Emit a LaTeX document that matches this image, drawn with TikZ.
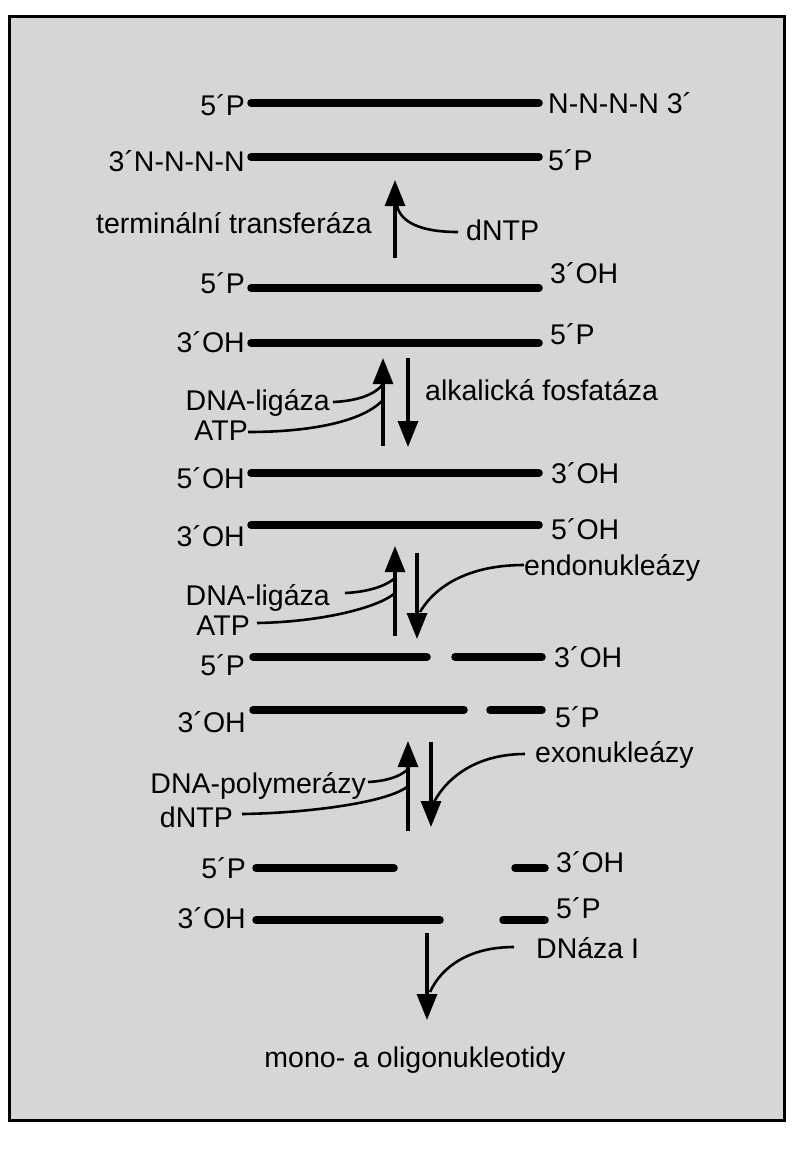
\documentclass[tikz,border=0pt]{standalone}
\usepackage{fontspec}
\setmainfont{Liberation Sans}
\usetikzlibrary{arrows.meta}
\begin{document}
\begin{tikzpicture}[x=1pt,y=-1pt,
  strand/.style={line width=7.5pt, line cap=round},
  lbl/.style={font=\fontsize{28.5}{30}\selectfont, inner sep=0pt},
  le/.style={lbl, anchor=base east},
  ri/.style={lbl, anchor=base west},
  rx/.style={line width=3.2pt, -{Triangle[length=26pt,width=20pt]}},
  feed/.style={line width=2.6pt}]
\useasboundingbox (0,0) rectangle (801,1149);
\fill[white] (0,0) rectangle (801,1149);
\draw[line width=3pt, fill=black!16] (9,16) rectangle (784,1120);

% ---------- strands ----------
\draw[strand] (251,103) -- (539,103);
\draw[strand] (251,157) -- (539,157);
\draw[strand] (251,288) -- (539,288);
\draw[strand] (251,343) -- (539,343);
\draw[strand] (251,473) -- (539,473);
\draw[strand] (251,525) -- (539,525);
\draw[strand] (253,657) -- (427,657);
\draw[strand] (455,657) -- (542,657);
\draw[strand] (253,710) -- (464,710);
\draw[strand] (490,710) -- (542,710);
\draw[strand] (256,868) -- (394,868);
\draw[strand] (515,868) -- (545,868);
\draw[strand] (256,920) -- (440,920);
\draw[strand] (503,920) -- (545,920);

% ---------- end labels ----------
\node[le] (l1) at (245,115) {5´P};
\node[ri] (r1) at (548,113) {N-N-N-N 3´};
\node[le] (l2) at (245,171) {3´N-N-N-N};
\node[ri] (r2) at (548,170) {5´P};
\node[le] (l3) at (245,293) {5´P};
\node[ri] (r3) at (550,283) {3´OH};
\node[le] (l4) at (245,352) {3´OH};
\node[ri] (r4) at (550,344) {5´P};
\node[le] (l5) at (245,488) {5´OH};
\node[ri] (r5) at (551,483) {3´OH};
\node[le] (l6) at (245,546) {3´OH};
\node[ri] (r6) at (551,539) {5´OH};
\node[le] (l7) at (245,675) {5´P};
\node[ri] (r7) at (554,667) {3´OH};
\node[le] (l8) at (246,732) {3´OH};
\node[ri] (r8) at (555,727) {5´P};
\node[le] (l9) at (246,878) {5´P};
\node[ri] (r9) at (556,872) {3´OH};
\node[le] (l10) at (246,928) {3´OH};
\node[ri] (r10) at (556,918) {5´P};

% ---------- step 1: terminal transferase ----------
\coordinate (a1s) at (395,258);
\coordinate (a1e) at (395,180);
\draw[rx] (a1s) -- (a1e);
\node[le] (tt) at (372,233) {terminální transferáza};
\node[ri] (dn1) at (466,240) {dNTP};
\coordinate (f1) at (458,232);
\coordinate (j1) at (397,206);
\draw[feed] (f1) .. controls (420,232) and (401,222) .. (j1);

% ---------- step 2: ligase / phosphatase ----------
\coordinate (u2s) at (383,446);
\coordinate (u2e) at (383,358);
\coordinate (d2s) at (408,358);
\coordinate (d2e) at (408,447);
\draw[rx] (u2s) -- (u2e);
\draw[rx] (d2s) -- (d2e);
\node[ri] (af) at (425,400) {alkalická fosfatáza};
\node[le] (dl1) at (330,410) {DNA-ligáza};
\node[le] (atp1) at (248,440) {ATP};
\coordinate (j2a) at (383,384);
\coordinate (j2b) at (383,400);
\draw[feed] (333,402) .. controls (358,401) and (376,394) .. (j2a);
\draw[feed] (atp1.east |- 0,432) .. controls (310,432) and (362,422) .. (j2b);

% ---------- step 3: ligase / endonucleases ----------
\coordinate (u3s) at (395,636);
\coordinate (u3e) at (395,546);
\coordinate (d3s) at (417,553);
\coordinate (d3e) at (417,639);
\draw[rx] (u3s) -- (u3e);
\draw[rx] (d3s) -- (d3e);
\node[ri] (en) at (524,575) {endonukleázy};
\node[le] (dl2) at (330,605) {DNA-ligáza};
\node[le] (atp2) at (250,635) {ATP};
\coordinate (j3a) at (395,578);
\coordinate (j3b) at (395,593);
\coordinate (j3c) at (420,612);
\draw[feed] (345,593) .. controls (368,592) and (386,586) .. (j3a);
\draw[feed] (257,623) .. controls (320,622) and (378,608) .. (j3b);
\draw[feed] (en.west |- 0,565) .. controls (470,565) and (436,585) .. (j3c);

% ---------- step 4: polymerase / exonucleases ----------
\coordinate (u4s) at (408,831);
\coordinate (u4e) at (408,741);
\coordinate (d4s) at (431,742);
\coordinate (d4e) at (431,827);
\draw[rx] (u4s) -- (u4e);
\draw[rx] (d4s) -- (d4e);
\node[ri] (ex) at (535,762) {exonukleázy};
\node[le] (pol) at (366,793) {DNA-polymerázy};
\node[le] (dn2) at (233,827) {dNTP};
\coordinate (j4a) at (408,769);
\coordinate (j4b) at (408,786);
\coordinate (j4c) at (434,802);
\draw[feed] (368,782) .. controls (386,781) and (400,777) .. (j4a);
\draw[feed] (242,814) .. controls (310,813) and (390,802) .. (j4b);
\draw[feed] (525,754) .. controls (478,754) and (448,776) .. (j4c);

% ---------- step 5: DNase I ----------
\coordinate (d5s) at (427,933);
\coordinate (d5e) at (427,1020);
\draw[rx] (d5s) -- (d5e);
\node[ri] (dnase) at (536,958) {DNáza I};
\coordinate (j5) at (430,992);
\draw[feed] (514,947) .. controls (470,947) and (442,966) .. (j5);
\node[lbl, anchor=base] (mono) at (415,1067) {mono- a oligonukleotidy};
\end{tikzpicture}
\end{document}
